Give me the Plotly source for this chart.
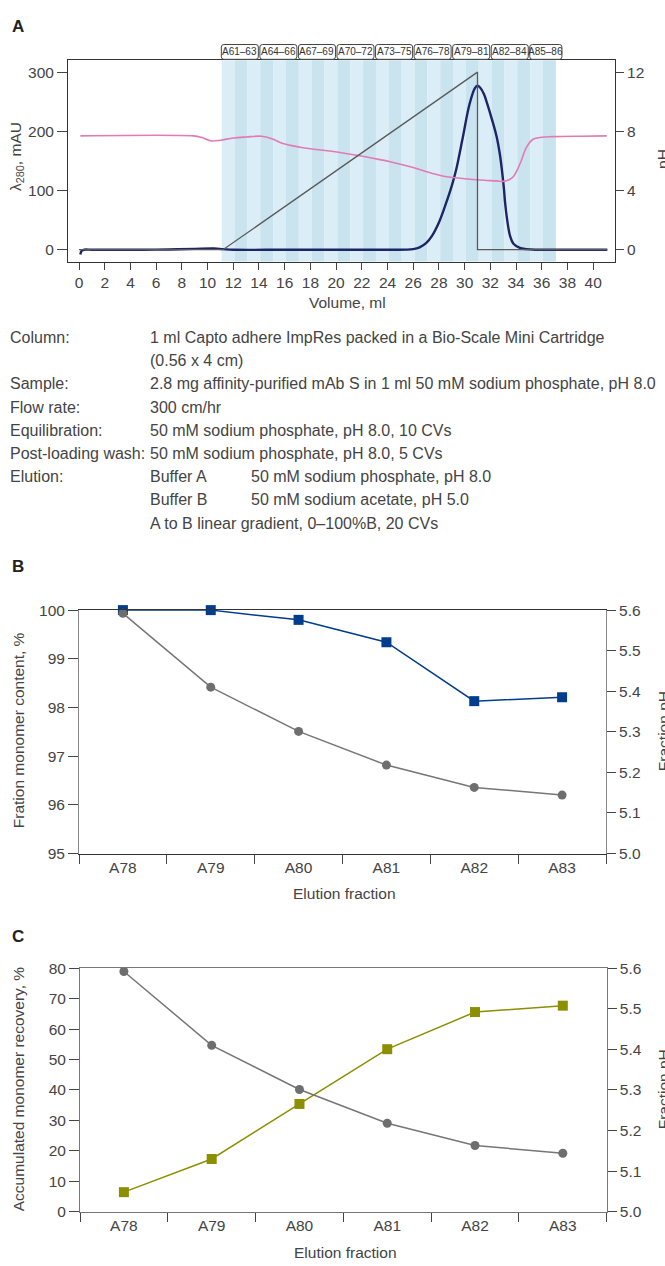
import plotly.graph_objects as go

W, H = 665, 1266


def px_x(x):
    return x / W


def px_y(y):
    return 1 - y / H


# ---------------- Panel A data ----------------
uv_volume_ml = [0.1, 0.2, 0.4, 1.0, 3.0, 5.0, 7.0, 9.0, 10.5, 11.2, 12.0, 16.0, 20.0, 24.0,
                26.0, 26.5, 27.0, 27.45, 28.0, 28.56, 29.0, 29.34, 29.86, 30.37, 30.8, 31.0,
                31.2, 31.5, 31.78, 32.1, 32.5, 32.75, 32.9, 33.05, 33.15, 33.3, 33.54, 33.8,
                34.3, 34.8, 35.5, 38.0, 41.1]
uv_mAU = [-8, -2, 0, 0, 0, 0, 0.5, 1.5, 2, 1, 0, 0, 0, 0,
          1, 4, 11, 23, 46, 79, 108, 135, 190, 245, 273, 277,
          274, 263, 245, 222, 190, 160, 135, 105, 79, 52, 23, 10,
          3, 1, 0, 0, 0]

ph_volume_ml = [0.1, 8.9, 9.5, 10.3, 11.0, 12.0, 13.0, 14.2, 15.0, 15.8, 17.2, 18.0, 19.5,
                21.6, 23.4, 24.2, 26.0, 27.5, 28.6, 30.0, 31.2, 32.5, 33.0, 33.5, 33.8,
                34.1, 34.4, 34.8, 35.3, 36.0, 36.9, 39.0, 41.06]
ph_values = [7.69, 7.69, 7.6, 7.35, 7.4, 7.55, 7.62, 7.67, 7.5, 7.2, 6.93, 6.82, 6.67,
             6.38, 6.09, 5.95, 5.55, 5.15, 4.93, 4.8, 4.71, 4.65, 4.62, 4.75, 4.95,
             5.4, 6.0, 6.9, 7.45, 7.6, 7.64, 7.67, 7.69]

gradient_volume_ml = [0.0, 11.2, 31.0, 31.0, 41.1]
gradient_percent_B = [0, 0, 100, 0, 0]

volume_ticks = [0, 2, 4, 6, 8, 10, 12, 14, 16, 18, 20, 22, 24, 26, 28, 30, 32, 34, 36, 38, 40]
uv_ticks = [0, 100, 200, 300]
ph_ticks = [0, 4, 8, 12]

fraction_edges_ml = [11.1, 12.1, 13.1, 14.1, 15.1, 16.1, 17.1, 18.1, 19.1, 20.1, 21.1, 22.1,
                     23.1, 24.1, 25.1, 26.1, 27.1, 28.1, 29.1, 30.1, 31.1, 32.1, 33.1, 34.1,
                     35.1, 36.1, 37.1]
fraction_groups = ["A61–63", "A64–66", "A67–69", "A70–72", "A73–75", "A76–78",
                   "A79–81", "A82–84", "A85–86"]
group_first = [0, 3, 6, 9, 12, 15, 18, 21, 24]
group_last = [2, 5, 8, 11, 14, 17, 20, 23, 25]

# ---------------- Panels B & C data ----------------
fractions = ["A78", "A79", "A80", "A81", "A82", "A83"]
monomer_content = [100.0, 100.0, 99.80, 99.34, 98.13, 98.21]
fraction_pH = [5.592, 5.41, 5.301, 5.218, 5.163, 5.144]
monomer_recovery = [6.4, 17.3, 35.4, 53.4, 65.6, 67.7]

FONT = "Liberation Sans, Arial, sans-serif"
TXT = "#444444"
TS = 15.5

fig = go.Figure()

# Panel A traces
fig.add_trace(go.Scatter(x=ph_volume_ml, y=ph_values, xaxis="x", yaxis="y2", mode="lines",
                         line=dict(color="#e27ab6", width=1.6), line_shape="spline",
                         showlegend=False, hoverinfo="skip"))
fig.add_trace(go.Scatter(x=gradient_volume_ml, y=gradient_percent_B, xaxis="x", yaxis="y3",
                         mode="lines", line=dict(color="#5a5a5a", width=1.3),
                         showlegend=False, hoverinfo="skip"))
fig.add_trace(go.Scatter(x=uv_volume_ml, y=uv_mAU, xaxis="x", yaxis="y", mode="lines",
                         line=dict(color="#1d2566", width=2.4), line_shape="spline",
                         showlegend=False, hoverinfo="skip"))

# Panel B traces
fig.add_trace(go.Scatter(x=fractions, y=monomer_content, xaxis="x2", yaxis="y4",
                         mode="lines+markers", cliponaxis=False,
                         line=dict(color="#003d8c", width=1.5),
                         marker=dict(symbol="square", size=10, color="#003d8c"),
                         showlegend=False))
fig.add_trace(go.Scatter(x=fractions, y=fraction_pH, xaxis="x2", yaxis="y5",
                         mode="lines+markers", cliponaxis=False,
                         line=dict(color="#767676", width=1.5),
                         marker=dict(symbol="circle", size=9, color="#6e6e6e"),
                         showlegend=False))

# Panel C traces
fig.add_trace(go.Scatter(x=fractions, y=monomer_recovery, xaxis="x3", yaxis="y6",
                         mode="lines+markers", cliponaxis=False,
                         line=dict(color="#8c8f00", width=1.5),
                         marker=dict(symbol="square", size=10, color="#8c8f00"),
                         showlegend=False))
fig.add_trace(go.Scatter(x=fractions, y=fraction_pH, xaxis="x3", yaxis="y7",
                         mode="lines+markers", cliponaxis=False,
                         line=dict(color="#767676", width=1.5),
                         marker=dict(symbol="circle", size=9, color="#6e6e6e"),
                         showlegend=False))

shapes = []
# fraction bands
band_colors = ["#dbedf6", "#c9e3ef"]
for i in range(len(fraction_edges_ml) - 1):
    shapes.append(dict(type="rect", xref="x", yref="y domain",
                       x0=fraction_edges_ml[i], x1=fraction_edges_ml[i + 1], y0=0, y1=1,
                       fillcolor=band_colors[i % 2], line=dict(width=0), layer="below"))

annotations = []
# fraction group label boxes
by0, by1 = px_y(51), px_y(36)
ry = 2.5 / H
rx = 0.2
for name, a, b in zip(fraction_groups, group_first, group_last):
    x0 = fraction_edges_ml[a] - 0.03
    x1 = max(fraction_edges_ml[b + 1] - 0.15, x0 + 2.5)
    path = (f"M {x0 + rx},{by0} L {x1 - rx},{by0} Q {x1},{by0} {x1},{by0 + ry} "
            f"L {x1},{by1 - ry} Q {x1},{by1} {x1 - rx},{by1} L {x0 + rx},{by1} "
            f"Q {x0},{by1} {x0},{by1 - ry} L {x0},{by0 + ry} Q {x0},{by0} {x0 + rx},{by0} Z")
    shapes.append(dict(type="path", xref="x", yref="paper", path=path,
                       fillcolor="white", line=dict(color="#444", width=1), layer="above"))
    annotations.append(dict(x=(x0 + x1) / 2, y=(by0 + by1) / 2, xref="x", yref="paper",
                            text=name, showarrow=False, xanchor="center", yanchor="middle",
                            font=dict(family=FONT, size=10, color="#333")))


def label(text, x, y, size=TS, angle=0, xanchor="center", color=TXT, bold=False):
    annotations.append(dict(x=px_x(x), y=px_y(y), xref="paper", yref="paper", text=text,
                            showarrow=False, xanchor=xanchor, yanchor="middle",
                            textangle=angle,
                            font=dict(family=FONT, size=size, color=color,
                                      weight="bold" if bold else "normal")))


# panel letters
label("A", 10, 18, size=17, xanchor="left", color="#222", bold=True)
label("B", 10, 565, size=17, xanchor="left", color="#222", bold=True)
label("C", 10, 940, size=17, xanchor="left", color="#222", bold=True)

# axis titles
label("λ<sub>280</sub>, mAU", 17, 150, angle=-90)
label("pH", 663, 152, angle=-90)
label("Volume, ml", 347, 297)
label("Fration monomer content, %", 18, 731, angle=-90)
label("Fraction pH", 663, 732, angle=-90)
label("Elution fraction", 344, 897)
label("Accumulated monomer recovery, %", 18, 1095, angle=-90)
label("Fraction pH", 663, 1095, angle=-90)
label("Elution fraction", 345, 1260)

# method text block
method_labels = ["Column:", "", "Sample:", "Flow rate:", "Equilibration:",
                 "Post-loading wash:", "Elution:", "", ""]
method_values = ["1 ml Capto adhere ImpRes packed in a Bio-Scale Mini Cartridge",
                 "(0.56 x 4 cm)",
                 "2.8 mg affinity-purified mAb S in 1 ml 50 mM sodium phosphate, pH 8.0",
                 "300 cm/hr",
                 "50 mM sodium phosphate, pH 8.0, 10 CVs",
                 "50 mM sodium phosphate, pH 8.0, 5 CVs",
                 "Buffer A", "Buffer B",
                 "A to B linear gradient, 0–100%B, 20 CVs"]
method_details = ["", "", "", "", "", "", "50 mM sodium phosphate, pH 8.0",
                  "50 mM sodium acetate, pH 5.0", ""]
row_y = [333, 356.5, 380, 403.5, 427, 450.5, 474, 497.5, 521]
for lab, val, det, yy in zip(method_labels, method_values, method_details, row_y):
    if lab:
        label(lab, 8, yy, size=16, xanchor="left")
    if val:
        label(val, 148, yy, size=16, xanchor="left")
    if det:
        label(det, 249, yy, size=16, xanchor="left")

tickfont = dict(family=FONT, size=TS, color=TXT)
common = dict(showgrid=False, zeroline=False, showline=True, linewidth=1,
              ticks="outside", tickcolor="#444", tickwidth=1, tickfont=tickfont)

fig.update_layout(
    width=W, height=H, autosize=False,
    margin=dict(l=0, r=0, t=0, b=0),
    paper_bgcolor="white", plot_bgcolor="rgba(0,0,0,0)",
    font=dict(family=FONT, color=TXT),
    showlegend=False,
    shapes=shapes, annotations=annotations,
    # Panel A
    xaxis=dict(domain=[px_x(68), px_x(615)], range=[-0.86, 41.7], anchor="y",
               tickmode="array", tickvals=volume_ticks, ticklen=7, mirror=True,
               linecolor="#333", **common),
    yaxis=dict(domain=[px_y(256), px_y(52)], range=[-20, 320], anchor="x",
               tickmode="array", tickvals=uv_ticks, ticklen=10, linecolor="#333", **common),
    yaxis2=dict(overlaying="y", anchor="x", side="right", range=[-0.8, 12.8],
                tickmode="array", tickvals=ph_ticks, ticklen=8, linecolor="#333", **common),
    yaxis3=dict(overlaying="y", anchor="x", range=[-20 / 3, 320 / 3], visible=False),
    # Panel B
    xaxis2=dict(domain=[px_x(79), px_x(606)], anchor="y4", type="category",
                categoryorder="array", categoryarray=fractions, range=[-0.5, 5.5],
                tickson="boundaries", ticklen=9, mirror=True, linecolor="#333", **common),
    yaxis4=dict(domain=[px_y(856), px_y(609.3)], anchor="x2", range=[95, 100], dtick=1,
                ticklen=10, linecolor="#888", **common),
    yaxis5=dict(overlaying="y4", anchor="x2", side="right", range=[5.0, 5.6], dtick=0.1,
                tickformat=".1f", ticklen=9, linecolor="#888", **common),
    # Panel C
    xaxis3=dict(domain=[px_x(80), px_x(606.7)], anchor="y6", type="category",
                categoryorder="array", categoryarray=fractions, range=[-0.5, 5.5],
                tickson="boundaries", ticklen=9, mirror=True, linecolor="#777", **common),
    yaxis6=dict(domain=[px_y(1219), px_y(972.3)], anchor="x3", range=[0, 80], dtick=10,
                ticklen=10, linecolor="#777", **common),
    yaxis7=dict(overlaying="y6", anchor="x3", side="right", range=[5.0, 5.6], dtick=0.1,
                tickformat=".1f", ticklen=9, linecolor="#777", **common),
)

fig.write_html("out.html", config={"displayModeBar": False},
               post_script="document.body.style.margin='0';document.body.style.overflow='hidden';")
